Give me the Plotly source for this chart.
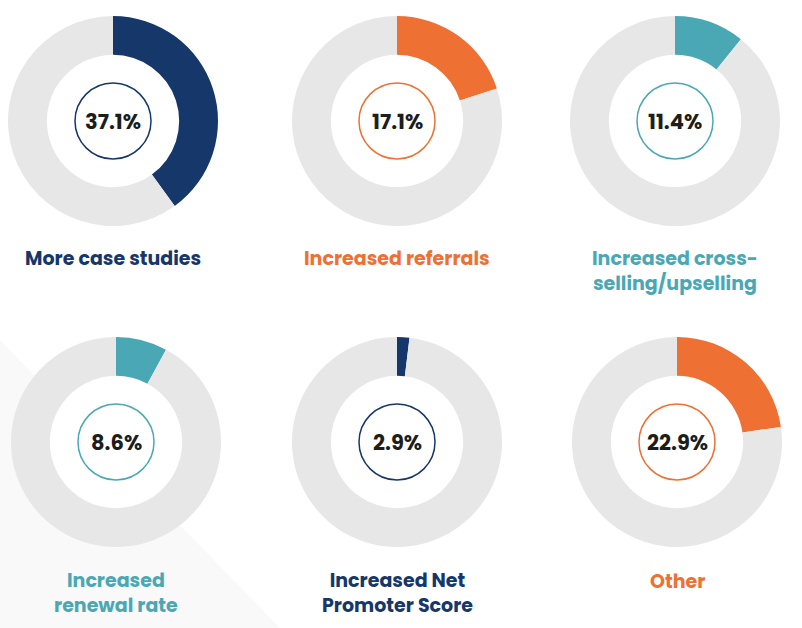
import plotly.graph_objects as go

W, H = 802, 628

labels = ["More case studies", "Increased referrals", "Increased cross-<br>selling/upselling",
          "Increased<br>renewal rate", "Increased Net<br>Promoter Score", "Other"]
value_text = ["37.1%", "17.1%", "11.4%", "8.6%", "2.9%", "22.9%"]
# arc shares as drawn in the picture (percent of full ring)
arc_values = [40.0, 20.0, 10.8, 7.9, 1.9, 22.7]
colors = ["#15376a", "#ee7033", "#4aa8b5", "#4aa8b5", "#15376a", "#ee7033"]

# layout (pixel geometry)
centers = [(113, 121), (397, 121), (675, 121), (116, 442), (397, 442), (677, 442)]
R = 105
label_y = [258, 258, 271, 593, 593, 581]

GRAY = "#e7e7e7"
TEXT = "#1d1d1b"
FONT = "Poppins, Inter, 'Noto Sans', sans-serif"

def px(x):
    return x / W

def py(y):
    return 1 - y / H

fig = go.Figure()
shapes = [
    dict(type="path", xref="paper", yref="paper",
         path=f"M 0 {py(340)} L 0 0 L {px(280)} 0 Z",
         fillcolor="#f9f9f9", line=dict(width=0), layer="below"),
]
annotations = []
for i, (lab, v, vt, c) in enumerate(zip(labels, arc_values, value_text, colors)):
    cx, cy = centers[i]
    # white disc behind the ring so the hole stays white over the background
    shapes.append(dict(type="circle", xref="paper", yref="paper",
                       x0=px(cx - R + 2), x1=px(cx + R - 2), y0=py(cy + R - 2), y1=py(cy - R + 2),
                       line=dict(width=0), fillcolor="white", layer="below"))
    fig.add_trace(go.Pie(
        values=[v, 100 - v],
        marker=dict(colors=[c, GRAY], line=dict(width=0)),
        hole=0.63, sort=False, direction="clockwise", rotation=0,
        textinfo="none", hoverinfo="skip", showlegend=False,
        domain=dict(x=[px(cx - R), px(cx + R)], y=[py(cy + R), py(cy - R)]),
    ))
    r2 = 38
    shapes.append(dict(type="circle", xref="paper", yref="paper",
                       x0=px(cx - r2), x1=px(cx + r2), y0=py(cy + r2), y1=py(cy - r2),
                       line=dict(color=c, width=1.5), fillcolor="rgba(0,0,0,0)", layer="above"))
    annotations.append(dict(x=px(cx), y=py(cy), xref="paper", yref="paper", text=f"<b>{vt}</b>",
                            showarrow=False, xanchor="center", yanchor="middle",
                            font=dict(family=FONT, size=21, color=TEXT)))
    annotations.append(dict(x=px(cx), y=py(label_y[i]), xref="paper", yref="paper", text=f"<b>{lab}</b>",
                            showarrow=False, xanchor="center", yanchor="middle", align="center",
                            font=dict(family=FONT, size=19, color=c)))

fig.update_layout(width=W, height=H, margin=dict(l=0, r=0, t=0, b=0),
                  paper_bgcolor="white", plot_bgcolor="white",
                  shapes=shapes, annotations=annotations)
fig.write_html("out.html", config={"displayModeBar": False},
               post_script="document.body.style.margin='0';")
